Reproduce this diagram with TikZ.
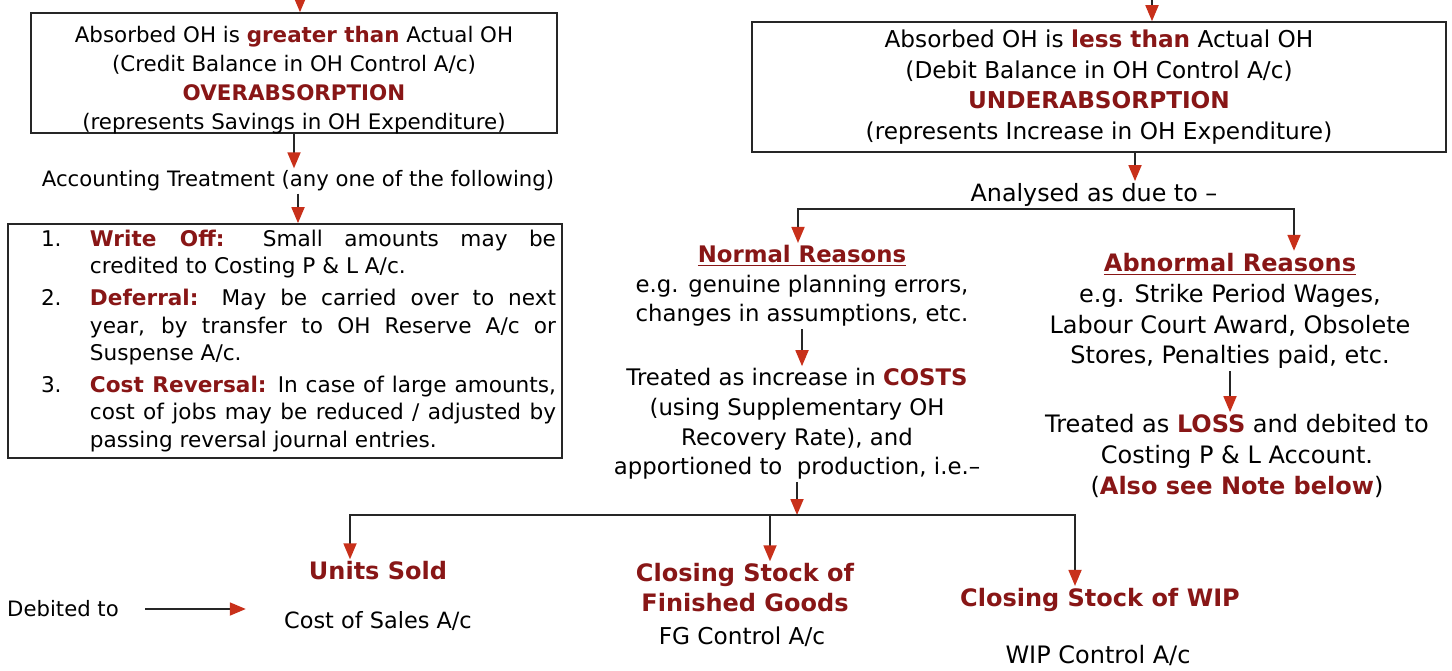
\documentclass[tikz,border=0pt]{standalone}
\usepackage{fontspec}
\setmainfont{DejaVu Sans}
\usepackage{tikz}
\usetikzlibrary{arrows.meta, positioning}

\definecolor{hdred}{RGB}{136,22,22}
\definecolor{tipred}{RGB}{200,48,26}
\newcommand{\hl}[1]{\textbf{\color{hdred}#1}}

\begin{document}
\begin{tikzpicture}[
  x=0.5pt, y=-0.5pt,
  every node/.style={font=\fontsize{10.6}{15}\selectfont, inner sep=1pt},
  box/.style={
    rectangle, draw=black!85, line width=0.8pt, align=center
  },
  lbox/.style={
    rectangle, draw=black!85, line width=0.8pt, align=justify,
    text width=271pt, inner xsep=3pt, inner ysep=3pt, minimum height=116pt
  },
  txt/.style={align=center},
  mtxt/.style={txt, font=\fontsize{11.4}{14.8}\selectfont},
  rtxt/.style={txt, font=\fontsize{12}{15.4}\selectfont},
  btxt/.style={txt, font=\fontsize{12}{15}\selectfont},
  arr/.style={-{Triangle[length=8pt, width=6.5pt, color=tipred]}, draw=black!85, line width=0.9pt},
  brr/.style={{Triangle[length=8pt, width=6.5pt, color=tipred]}-{Triangle[length=8pt, width=6.5pt, color=tipred]},
    draw=black!85, line width=0.9pt}
]
\useasboundingbox (0,0) rectangle (1452,670);

% left column (overabsorption)
\node[box, minimum width=263pt, minimum height=60pt] (over) at (294,73) {};
\node[txt, font=\fontsize{10.7}{14.5}\selectfont] (overtxt) at (294,80)
  {Absorbed OH is \hl{greater than} Actual OH\\ (Credit Balance in OH Control A/c)\\
   \hl{OVERABSORPTION}\\ (represents Savings in OH Expenditure)};
\node (acct) at (298,181) {Accounting Treatment (any one of the following)};
\node[lbox] (list) at (285,341) {\fontsize{10.8}{13.8}\selectfont\leftskip=38pt\parskip=2pt\parindent=0pt
  \hyphenpenalty=10000
  \noindent\llap{\makebox[24.5pt][l]{1.}}\hl{Write Off:} Small amounts may be\linebreak credited to Costing P \& L A/c.\par
  \noindent\llap{\makebox[24.5pt][l]{2.}}\hl{Deferral:} May be carried over to next\linebreak year, by transfer to OH Reserve A/c or\linebreak Suspense A/c.\par
  \noindent\llap{\makebox[24.5pt][l]{3.}}\hl{Cost Reversal:} In case of large amounts,\linebreak cost of jobs may be reduced / adjusted by\linebreak passing reversal journal entries.\par};

% right column (underabsorption)
\node[box, minimum width=347pt, minimum height=65pt, font=\fontsize{11.6}{15.4}\selectfont] (under) at (1099,87)
  {Absorbed OH is \hl{less than} Actual OH\\ (Debit Balance in OH Control A/c)\\
   \hl{UNDERABSORPTION}\\ (represents Increase in OH Expenditure)};
\node[font=\fontsize{11.9}{15}\selectfont] (due) at (1094,195) {Analysed as due to --};

\node[mtxt] (normal) at (802,286)
  {\hl{\underline{Normal Reasons}}\\ e.g. genuine planning errors,\\ changes in assumptions, etc.};
\node[mtxt] (costs) at (797,424)
  {Treated as increase in \hl{COSTS}\\ (using Supplementary OH\\ Recovery Rate), and\\ apportioned to~ production, i.e.--};

\node[rtxt] (abnormal) at (1230,311)
  {\hl{\underline{Abnormal Reasons}}\\ e.g. Strike Period Wages,\\ Labour Court Award, Obsolete\\ Stores, Penalties paid, etc.};
\node[rtxt] (loss) at (1237,456)
  {Treated as \hl{LOSS} and debited to\\ Costing P \& L Account.\\ (\hl{Also see Note below})};

% bottom row (apportionment)
\node[btxt] (sold) at (378,571) {\hl{Units Sold}};
\node[btxt] (fg)   at (745,588) {\hl{Closing Stock of}\\ \hl{Finished Goods}};
\node[btxt] (wip)  at (1100,600) {\hl{Closing Stock of WIP}};
\node[font=\fontsize{11.2}{15}\selectfont] (cosacc) at (378,621) {Cost of Sales A/c};
\node[font=\fontsize{11.6}{15}\selectfont] (fgacc)  at (742,637) {FG Control A/c};
\node[font=\fontsize{12}{15}\selectfont] (wipacc) at (1098,655) {WIP Control A/c};
\node (deb) at (63,609) {Debited to};

% ======================
% FLOWS
% ======================

% incoming
\coordinate (inl) at (300,0);
\coordinate (inr) at (1152,0);
\draw[arr] (inl) -- (inl |- over.north);
\draw[arr] (inr) -- (inr |- under.north);

% overabsorption path
\draw[arr] (over.south) -- (over.south |- acct.north);
\draw[arr] (acct.south) -- (acct.south |- list.north);

% underabsorption split
\coordinate (ux) at ([xshift=18pt]under.south);
\draw[arr] (ux) -- (ux |- due.north);
\coordinate (ntop) at ([xshift=-2pt]normal.north);
\coordinate (atop) at ([xshift=32pt]abnormal.north);
\draw[brr] (ntop) |- (due.south) -| (atop);

\draw[arr] (normal.south) -- (normal.south |- costs.north);
\draw[arr] (abnormal.south) -- (abnormal.south |- loss.north);

% costs -> three heads
\coordinate (split) at (797,515);
\draw[arr] (costs.south) -- (split);
\coordinate (stop) at ([xshift=-14pt]sold.north);
\coordinate (ftop) at ([xshift=12.5pt]fg.north);
\coordinate (wtop) at ([xshift=-12.5pt]wip.north);
\draw[brr] (stop) |- (split) -| (wtop);
\draw[arr] (ftop |- split) -- (ftop);

% debited to
\coordinate (dtip) at ([xshift=-18pt]cosacc.west);
\draw[arr] ([xshift=12pt]deb.east) -- (dtip |- deb.east);

\end{tikzpicture}
\end{document}
